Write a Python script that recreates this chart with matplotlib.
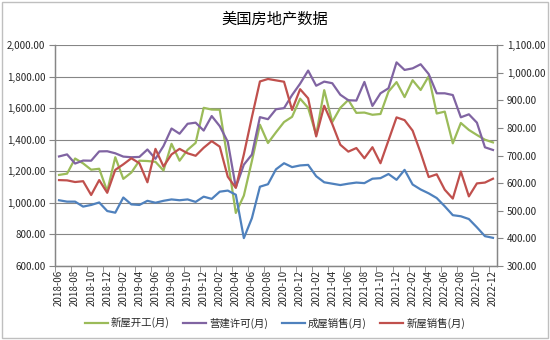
import matplotlib
matplotlib.use("Agg")
import matplotlib.pyplot as plt
import pandas as pd
from matplotlib.ticker import FuncFormatter, FixedLocator
from matplotlib.patches import Rectangle

plt.rcParams['font.family'] = ['Noto Sans CJK SC', 'DejaVu Sans']

months = [p.strftime('%Y-%m') for p in pd.period_range('2018-06', '2022-12', freq='M')]

# 新屋开工 / 营建许可 (left axis, thousand units, SAAR)
housing_starts = [1177, 1185, 1281, 1250, 1210, 1216, 1074, 1289, 1152, 1192,
                  1267, 1265, 1260, 1205, 1374, 1267, 1336, 1380, 1602, 1591,
                  1590, 1270, 936, 1046, 1265, 1495, 1379, 1447, 1512, 1545,
                  1660, 1602, 1430, 1714, 1512, 1602, 1652, 1570, 1572, 1558,
                  1563, 1705, 1765, 1670, 1777, 1715, 1802, 1566, 1578, 1377,
                  1506, 1462, 1430, 1400, 1383]
building_permits = [1294, 1307, 1249, 1268, 1267, 1326, 1327, 1314, 1293, 1289,
                    1291, 1338, 1279, 1360, 1471, 1438, 1501, 1508, 1458, 1550,
                    1486, 1387, 1098, 1242, 1306, 1543, 1530, 1593, 1600, 1683,
                    1755, 1838, 1742, 1768, 1758, 1685, 1650, 1648, 1766, 1614,
                    1694, 1726, 1890, 1842, 1852, 1878, 1816, 1694, 1694, 1683,
                    1542, 1561, 1508, 1352, 1335]
# 成屋销售 (right axis, 10k units) / 新屋销售 (right axis, thousand units)
existing_sales = [538, 533, 533, 515, 521, 530, 499, 493, 548, 523,
                  521, 536, 529, 536, 541, 538, 541, 532, 551, 543,
                  569, 573, 558, 401, 473, 587, 596, 650, 672, 658,
                  664, 666, 625, 603, 598, 593, 598, 602, 600, 616,
                  618, 633, 612, 648, 595, 577, 563, 546, 516, 484,
                  480, 470, 440, 408, 402]
new_home_sales = [611, 610, 604, 607, 557, 611, 565, 648, 668, 690,
                  672, 603, 724, 660, 704, 724, 708, 699, 728, 752,
                  732, 623, 583, 704, 839, 968, 977, 972, 967, 865,
                  940, 907, 769, 880, 814, 739, 714, 727, 690, 730,
                  672, 755, 838, 828, 790, 710, 622, 632, 576, 544,
                  642, 552, 599, 602, 616]

left_ticks = [600, 800, 1000, 1200, 1400, 1600, 1800, 2000]
right_ticks = [300, 400, 500, 600, 700, 800, 900, 1000, 1100]

c_green = '#9BBB59'
c_purple = '#8064A2'
c_blue = '#4F81BD'
c_red = '#C0504D'
axis_gray = '#868686'
text_col = '#262626'

fig = plt.figure(figsize=(5.5, 3.4), dpi=100)
fig.patches.append(Rectangle((0.004, 0.006), 0.992, 0.988, transform=fig.transFigure,
                             fill=False, edgecolor='#BFBFBF', lw=1.0))

ax = fig.add_axes([55 / 550, 1 - 266 / 340, 442 / 550, 221 / 340])
ax2 = ax.twinx()

x = list(range(len(months)))
l1, = ax.plot(x, housing_starts, color=c_green, lw=1.6, label='新屋开工(月)')
l2, = ax.plot(x, building_permits, color=c_purple, lw=1.6, label='营建许可(月)')
l3, = ax2.plot(x, existing_sales, color=c_blue, lw=1.6, label='成屋销售(月)')
l4, = ax2.plot(x, new_home_sales, color=c_red, lw=1.6, label='新屋销售(月)')

ax.set_xlim(-0.5, len(months) - 0.5)
ax.set_ylim(left_ticks[0], left_ticks[-1])
ax2.set_ylim(right_ticks[0], right_ticks[-1])
ax.set_yticks(left_ticks)
ax2.set_yticks(right_ticks)
fmt = FuncFormatter(lambda v, p: f'{v:,.2f}')
ax.yaxis.set_major_formatter(fmt)
ax2.yaxis.set_major_formatter(fmt)

ax.yaxis.grid(True, color=axis_gray, lw=0.8)
ax.set_axisbelow(True)

ax.set_xticks(x[::2])
ax.set_xticklabels(months[::2], rotation=90, fontsize=7, color=text_col)
ax.xaxis.set_minor_locator(FixedLocator([i - 0.5 for i in range(0, len(months) + 1, 2)]))
ax.tick_params(axis='x', which='major', length=0, pad=3)
ax.tick_params(axis='x', which='minor', length=4, color=axis_gray, direction='out')
ax.tick_params(axis='y', labelsize=7, labelcolor=text_col, length=4, color=axis_gray, pad=3)
ax2.tick_params(axis='y', labelsize=7, labelcolor=text_col, length=4, color=axis_gray, pad=3)

for a in (ax, ax2):
    a.spines['top'].set_visible(False)
    for s in ('left', 'right', 'bottom'):
        a.spines[s].set_color(axis_gray)
        a.spines[s].set_linewidth(0.9)

fig.text(0.5, 1 - 19 / 340, '美国房地产数据', ha='center', va='center',
         fontsize=11, color='#000000')

fig.legend(handles=[l1, l2, l3, l4], loc='center', bbox_to_anchor=(0.5, 1 - 323 / 340),
           ncol=4, frameon=False, fontsize=7.5, handlelength=2.2, handletextpad=0.3,
           columnspacing=1.3, labelcolor=text_col)

fig.savefig('out.png', dpi=100, facecolor='white')
